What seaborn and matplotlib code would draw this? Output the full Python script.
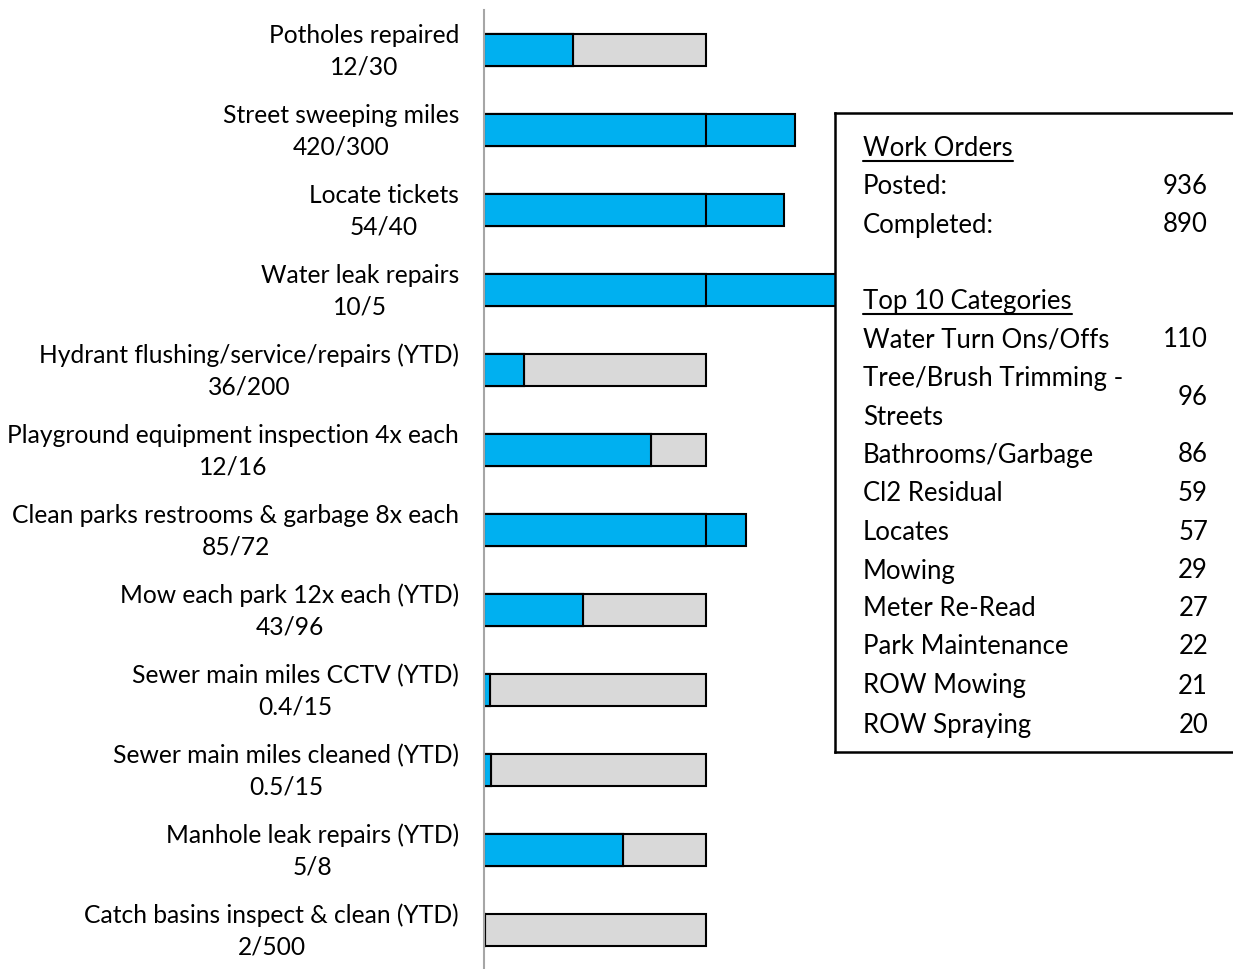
import numpy as np
import pandas as pd
import matplotlib
matplotlib.use("Agg")
import matplotlib.pyplot as plt
import seaborn as sns
from matplotlib.lines import Line2D

# ---------------- data ----------------
categories = [
    "Potholes repaired",
    "Street sweeping miles",
    "Locate tickets",
    "Water leak repairs",
    "Hydrant flushing/service/repairs (YTD)",
    "Playground equipment inspection 4x each",
    "Clean parks restrooms & garbage 8x each",
    "Mow each park 12x each (YTD)",
    "Sewer main miles CCTV (YTD)",
    "Sewer main miles cleaned (YTD)",
    "Manhole leak repairs (YTD)",
    "Catch basins inspect & clean (YTD)",
]
actual = [12, 420, 54, 10, 36, 12, 85, 43, 0.4, 0.5, 5, 2]
target = [30, 300, 40, 5, 200, 16, 72, 96, 15, 15, 8, 500]

wo_labels = ["Posted:", "Completed:"]
wo_values = [936, 890]

top_categories = ["Water Turn Ons/Offs", "Tree/Brush Trimming -\nStreets", "Bathrooms/Garbage",
                  "Cl2 Residual", "Locates", "Mowing", "Meter Re-Read",
                  "Park Maintenance", "ROW Mowing", "ROW Spraying"]
top_counts = [110, 96, 86, 59, 57, 29, 27, 22, 21, 20]

# ---------------- style ----------------
sns.set_style("white")
plt.rcParams["font.family"] = ["Lato", "DejaVu Sans"]

BLUE = "#00B0F0"
GREY = "#D9D9D9"
SPINE = "#A6A6A6"

W, H = 1233, 970
fig = plt.figure(figsize=(W / 100, H / 100), dpi=100)

def fx(px):
    return px / W

def fy(py):
    return 1 - py / H

labels = [f"{c}\n{a:g}/{t:g}" for c, a, t in zip(categories, actual, target)]
df = pd.DataFrame({
    "label": labels,
    "full": [1.0] * len(labels),
    "pct": [a / t for a, t in zip(actual, target)],
})
df["capped"] = df["pct"].clip(upper=1.0)

ax = fig.add_axes([fx(484), -1 / H, fx(W - 484), 960 / H])
common = dict(y="label", orient="h", width=0.4, edgecolor="black", linewidth=1.5,
              saturation=1, ax=ax)
sns.barplot(data=df, x="full", color=GREY, **common)
sns.barplot(data=df, x="pct", color=BLUE, **common)
sns.barplot(data=df, x="capped", color=BLUE, **common)

ax.set_xlim(0, (W - 484) / 222)
ax.set_ylim(len(labels) - 0.5, -0.5)
ax.set_xlabel("")
ax.set_ylabel("")
ax.set_xticks([])
for s in ["top", "right", "bottom"]:
    ax.spines[s].set_visible(False)
ax.spines["left"].set_color(SPINE)
ax.spines["left"].set_linewidth(1.5)

ax.tick_params(axis="y", which="major", length=0, pad=18, labelsize=17.7, labelcolor="black")
ax.set_yticks(np.arange(-0.5, len(labels), 1.0), minor=True)
ax.tick_params(axis="y", which="minor", length=6, width=1.5, color=SPINE, direction="out")
for t in ax.get_yticklabels():
    t.set_multialignment("center")
    t.set_linespacing(1.45)
    t.set_verticalalignment("center")

# ---------------- info box ----------------
box = fig.add_axes([fx(835), fy(753), fx(W - 835) + 0.02, (753 - 114) / H])
box.set_facecolor("white")
box.set_xticks([])
box.set_yticks([])
for s in box.spines.values():
    s.set_color("black")
    s.set_linewidth(1.8)
box.set_zorder(5)

fs = 18.5
txt_kw = dict(fontsize=fs, color="black", va="center", zorder=10)
LX, RX = 863, 1208
underline_texts = []

t = fig.text(fx(LX), fy(148), "Work Orders", ha="left", **txt_kw)
underline_texts.append(t)
ys = [186, 225]
for lab, val, yy in zip(wo_labels, wo_values, ys):
    fig.text(fx(LX), fy(yy), lab, ha="left", **txt_kw)
    fig.text(fx(RX), fy(yy), f"{val}", ha="right", **txt_kw)

t = fig.text(fx(LX), fy(301), "Top 10 Categories", ha="left", **txt_kw)
underline_texts.append(t)
cat_y = [340, 398, 455, 494, 532, 571, 609, 647, 686, 726]
for lab, val, yy in zip(top_categories, top_counts, cat_y):
    parts = lab.split("\n")
    n = len(parts)
    for i, part in enumerate(parts):
        off = (i - (n - 1) / 2) * 39
        fig.text(fx(LX), fy(yy + off), part, ha="left", **txt_kw)
    fig.text(fx(RX), fy(yy), f"{val}", ha="right", **txt_kw)

fig.canvas.draw()
r = fig.canvas.get_renderer()
for t in underline_texts:
    bb = t.get_window_extent(r)
    yline = bb.y0 - 1
    fig.add_artist(Line2D([bb.x0 / W, bb.x1 / W], [yline / H, yline / H],
                          color="black", linewidth=1.5, zorder=10))

fig.savefig("out.png", dpi=100)
